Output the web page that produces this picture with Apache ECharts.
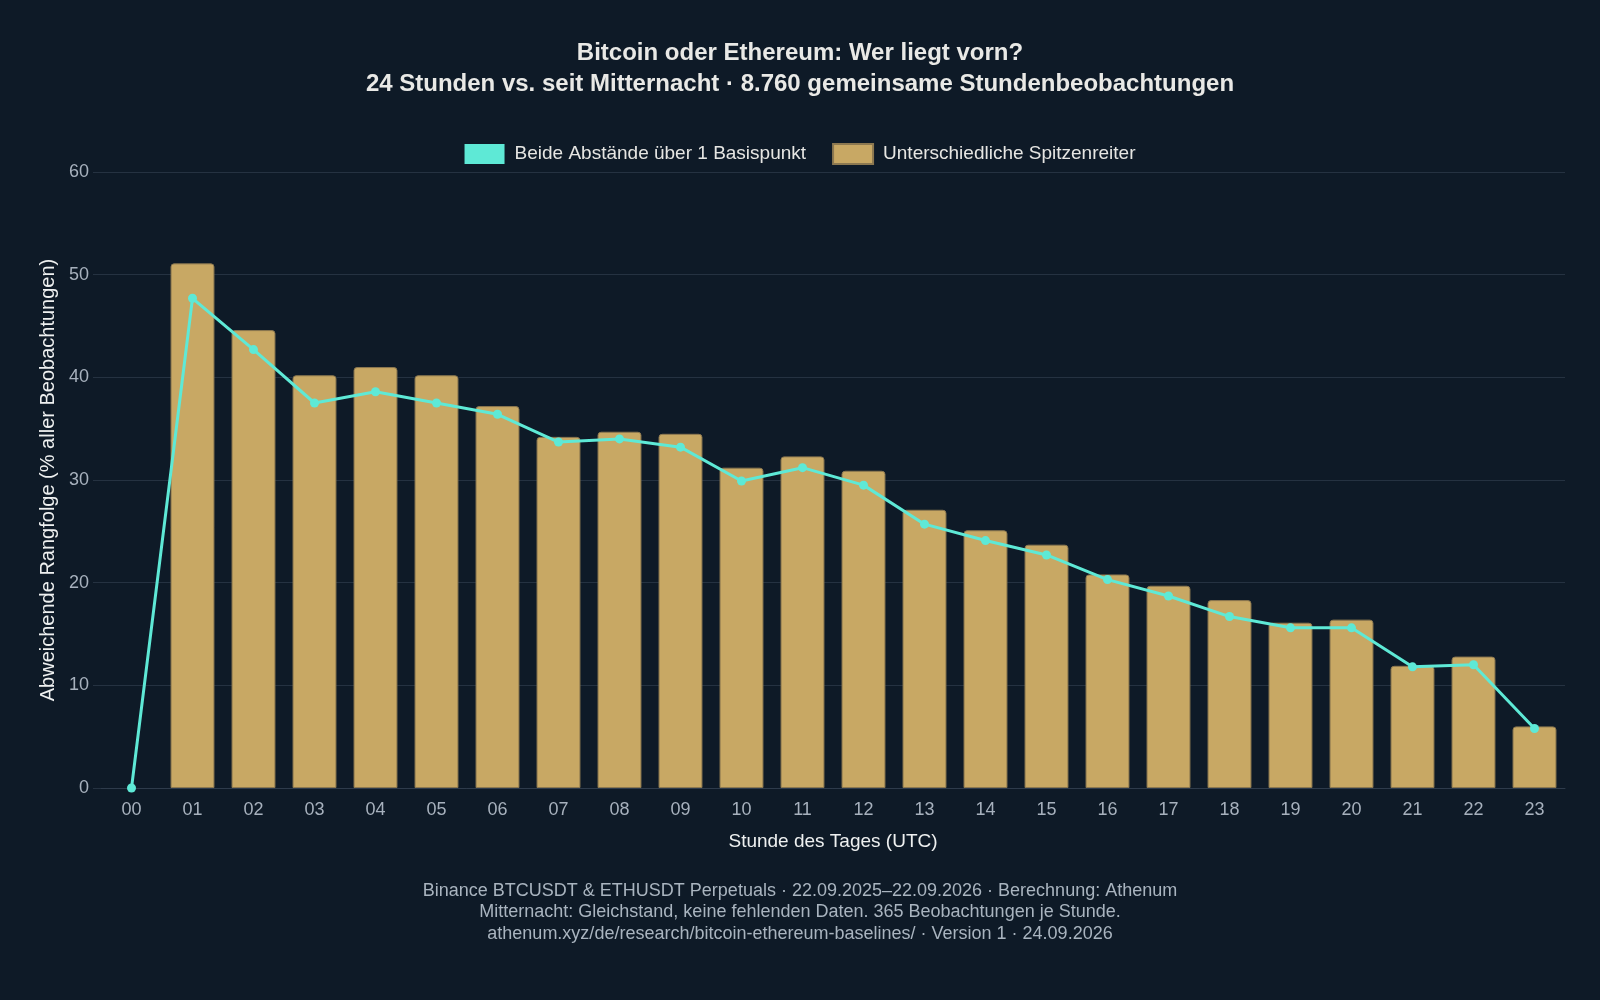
<!DOCTYPE html>
<html lang="de">
<head>
<meta charset="utf-8">
<title>Bitcoin oder Ethereum: Wer liegt vorn?</title>
<script src="https://cdn.jsdelivr.net/npm/echarts@6/dist/echarts.min.js"></script>
<style>
  html, body { margin: 0; padding: 0; background: #0e1a27; }
  #chart { width: 1600px; height: 1000px; }
</style>
</head>
<body>
<div id="chart"></div>
<script>
// Stunden (UTC)
const hours = ["00", "01", "02", "03", "04", "05", "06", "07", "08", "09", "10", "11",
  "12", "13", "14", "15", "16", "17", "18", "19", "20", "21", "22", "23"];

// Unterschiedliche Spitzenreiter (% aller Beobachtungen)
const differentLeader = [0, 51.1, 44.6, 40.2, 41.0, 40.2, 37.2, 34.2, 34.7, 34.5, 31.2, 32.3,
  30.9, 27.1, 25.1, 23.7, 20.8, 19.7, 18.3, 16.1, 16.4, 11.9, 12.8, 6.0];

// Beide Abstände über 1 Basispunkt
const bothAboveOneBp = [0, 47.7, 42.7, 37.5, 38.6, 37.5, 36.4, 33.7, 34.0, 33.2, 29.9, 31.2,
  29.5, 25.7, 24.1, 22.7, 20.3, 18.7, 16.7, 15.6, 15.6, 11.8, 12.0, 5.8];

const yTicks = [0, 10, 20, 30, 40, 50, 60];

const FONT = "'Liberation Sans', Arial, sans-serif";
const gridColor = "#253241";
const tickColor = "#a7b1bd";

const chart = echarts.init(document.getElementById("chart"));

// Balken mit Wert 0 ohne Rand (sonst bleibt ein Strich stehen)
const barData = differentLeader.map((v) =>
  v === 0 ? { value: v, itemStyle: { borderWidth: 0 } } : v
);

chart.setOption({
  backgroundColor: "#0e1a27",
  textStyle: { fontFamily: FONT },
  title: [
    {
      text: "Bitcoin oder Ethereum: Wer liegt vorn?\n24 Stunden vs. seit Mitternacht · 8.760 gemeinsame Stundenbeobachtungen",
      left: "center",
      top: 33,
      textStyle: {
        color: "#e9e9e6",
        fontSize: 24,
        fontWeight: "bold",
        lineHeight: 31,
        fontFamily: FONT,
        align: "center",
      },
    },
    {
      text: "Binance BTCUSDT & ETHUSDT Perpetuals · 22.09.2025–22.09.2026 · Berechnung: Athenum\nMitternacht: Gleichstand, keine fehlenden Daten. 365 Beobachtungen je Stunde.\nathenum.xyz/de/research/bitcoin-ethereum-baselines/ · Version 1 · 24.09.2026",
      left: "center",
      top: 875,
      textStyle: {
        color: "#a9b4bf",
        fontSize: 18,
        fontWeight: "normal",
        lineHeight: 21.5,
        fontFamily: FONT,
        align: "center",
      },
    },
  ],
  legend: {
    top: 138,
    left: "center",
    itemWidth: 40,
    itemHeight: 20,
    itemGap: 26,
    textStyle: { color: "#e6e6e3", fontSize: 19, fontFamily: FONT, padding: [0, 0, 0, 5] },
    data: [
      { name: "Beide Abstände über 1 Basispunkt", icon: "rect" },
      { name: "Unterschiedliche Spitzenreiter", icon: "rect" },
    ],
  },
  grid: {
    left: 101,
    right: 35,
    top: 172,
    bottom: 212,
  },
  xAxis: {
    type: "category",
    data: hours,
    boundaryGap: true,
    name: "Stunde des Tages (UTC)",
    nameLocation: "middle",
    nameGap: 44,
    nameTextStyle: { color: "#eef0f0", fontSize: 19, fontFamily: FONT },
    axisLine: { show: true, lineStyle: { color: "#2e3b4b", width: 1 } },
    axisTick: { show: false },
    axisLabel: { color: tickColor, fontSize: 18, margin: 13, fontFamily: FONT },
  },
  yAxis: {
    type: "value",
    min: yTicks[0],
    max: yTicks[yTicks.length - 1],
    interval: 10,
    name: "Abweichende Rangfolge (% aller Beobachtungen)",
    nameLocation: "middle",
    nameGap: 40,
    nameTextStyle: { color: "#eef0f0", fontSize: 20, fontFamily: FONT },
    axisLine: { show: false },
    axisTick: { show: true, length: 8, lineStyle: { color: gridColor } },
    axisLabel: { color: tickColor, fontSize: 18, margin: 12, fontFamily: FONT },
    splitLine: { lineStyle: { color: gridColor, width: 1 } },
  },
  series: [
    {
      name: "Unterschiedliche Spitzenreiter",
      type: "bar",
      data: barData,
      barCategoryGap: "28%",
      itemStyle: {
        color: "#c8a864",
        borderColor: "#8c7850",
        borderWidth: 1,
        borderRadius: [3, 3, 0, 0],
      },
      z: 2,
    },
    {
      name: "Beide Abstände über 1 Basispunkt",
      type: "line",
      data: bothAboveOneBp,
      symbol: "circle",
      symbolSize: 9,
      showAllSymbol: true,
      lineStyle: { color: "#5ee9d6", width: 3 },
      itemStyle: { color: "#5ee9d6" },
      z: 3,
    },
  ],
});

window.addEventListener("resize", function () {
  chart.resize();
});
</script>
</body>
</html>
